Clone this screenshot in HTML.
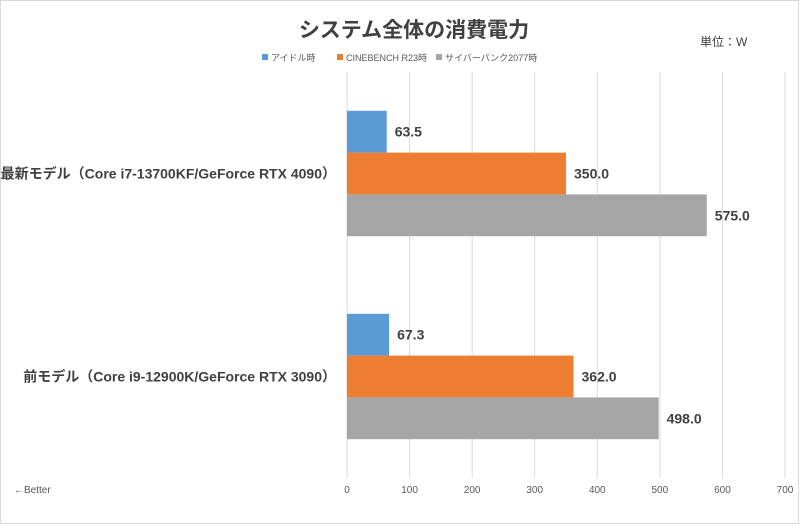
<!DOCTYPE html>
<html><head><meta charset="utf-8"><style>
html,body{margin:0;padding:0;background:#fff}
body{width:800px;height:525px;overflow:hidden;font-family:"Liberation Sans","Noto Sans CJK JP",sans-serif}
</style></head><body>
<svg id="chart" width="800" height="525" xmlns="http://www.w3.org/2000/svg" font-family="Liberation Sans, Noto Sans CJK JP, sans-serif">
<rect x="0.5" y="0.5" width="798" height="523" fill="#fff" stroke="#d9d9d9"/>
<text x="414" y="37" text-anchor="middle" font-size="21" font-weight="bold" fill="#404040">システム全体の消費電力</text>
<text x="700" y="46" font-size="12" fill="#404040">単位：W</text>
<g id="legend"></g>
<g id="grid"></g>
<g id="bars"></g>
<text x="14" y="493" font-size="10" fill="#595959">←Better</text>
</svg>
<script>
const categories = ["最新モデル（Core i7-13700KF/GeForce RTX 4090）", "前モデル（Core i9-12900K/GeForce RTX 3090）"];
const seriesNames = ["アイドル時", "CINEBENCH R23時", "サイバーパンク2077時"];
const idleValues = [63.5, 67.3];
const cinebenchValues = [350.0, 362.0];
const cyberpunkValues = [575.0, 498.0];
const tickValues = [0, 100, 200, 300, 400, 500, 600, 700];

const NS = "http://www.w3.org/2000/svg";
const colors = ["#5b9bd5", "#ed7d31", "#a5a5a5"];
const x0 = 347, x1 = 785, xmax = 700, plotTop = 72, plotBottom = 478;
const xs = v => x0 + (v / xmax) * (x1 - x0);
const series = [idleValues, cinebenchValues, cyberpunkValues];
const bandH = (plotBottom - plotTop) / categories.length;
const barH = 41.8;

function mk(tag, attrs, parent) {
  const e = document.createElementNS(NS, tag);
  for (const k in attrs) e.setAttribute(k, attrs[k]);
  parent.appendChild(e);
  return e;
}
const grid = document.getElementById("grid");
tickValues.forEach(t => {
  const l = mk("line", {x1: xs(t), x2: xs(t), y1: plotTop, y2: plotBottom, stroke: "#d9d9d9", "stroke-width": 1}, grid);
  
  
  const tx = mk("text", {x: xs(t), y: 493, "text-anchor": "middle", "font-size": 10, fill: "#595959"}, grid);
  tx.textContent = t;
  
  
});
const bars = document.getElementById("bars");
categories.forEach((c, i) => {
  const center = plotTop + bandH * (i + 0.5);
  const gTop = center - barH * 1.5;
  const lab = mk("text", {x: 336, y: center + 5, "text-anchor": "end", "font-size": 14, "font-weight": "bold", fill: "#404040"}, bars);
  lab.textContent = c;
  
  
  series.forEach((s, j) => {
    const y = gTop + j * barH;
    const r = mk("rect", {x: x0, y: y, width: xs(s[i]) - x0, height: barH, fill: colors[j]}, bars);
    
    
    const v = mk("text", {x: xs(s[i]) + 8, y: y + barH / 2 + 5, "font-size": 14, "font-weight": "bold", fill: "#404040"}, bars);
    v.textContent = s[i].toFixed(1);
    
    
  });
});
const legend = document.getElementById("legend");
const lx = [262, 337, 436];
seriesNames.forEach((n, j) => {
  const r = mk("rect", {x: lx[j], y: 54, width: 6, height: 6, fill: colors[j]}, legend);
  
  
  const t = mk("text", {x: lx[j] + 9, y: 61, "font-size": 9, fill: "#595959"}, legend);
  t.textContent = n;
  
  
});
</script>
</body></html>
